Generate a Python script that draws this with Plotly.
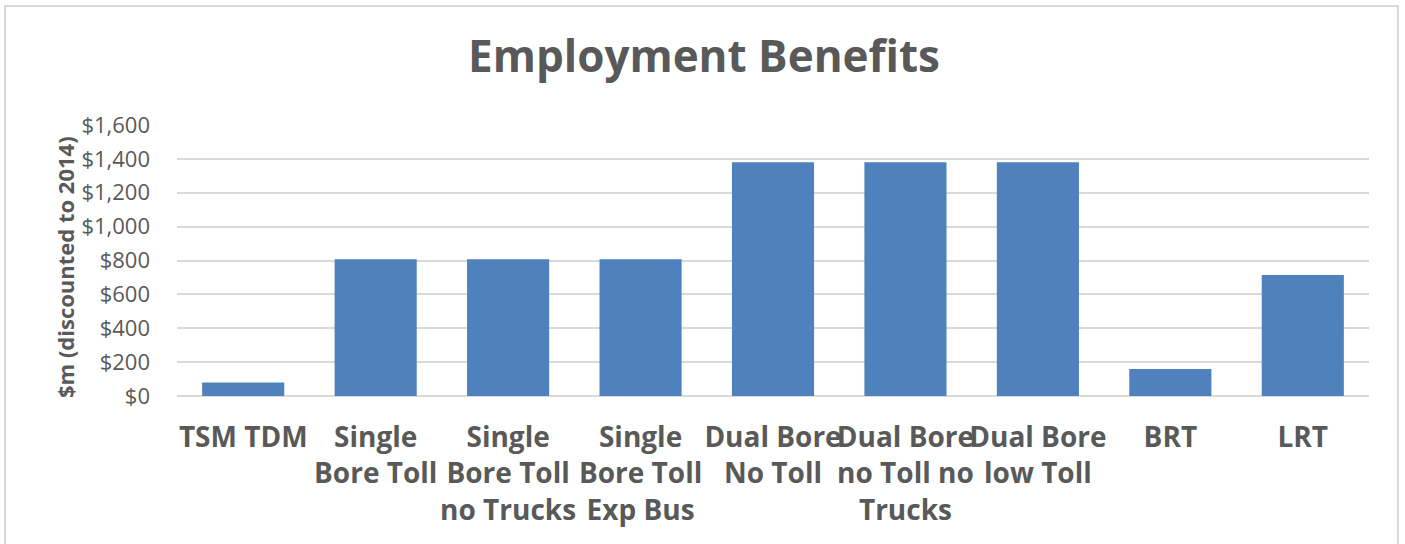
import plotly.graph_objects as go

# Employment benefits by scenario, $m discounted to 2014
categories = ["TSM TDM", "Single Bore Toll", "Single Bore Toll no Trucks",
              "Single Bore Toll Exp Bus", "Dual Bore No Toll",
              "Dual Bore no Toll no Trucks", "Dual Bore low Toll", "BRT", "LRT"]
benefits = [80, 808, 808, 808, 1380, 1380, 1380, 160, 715]
tick_labels = ["TSM TDM", "Single<br>Bore Toll", "Single<br>Bore Toll<br>no Trucks",
               "Single<br>Bore Toll<br>Exp Bus", "Dual Bore<br>No Toll",
               "Dual Bore<br>no Toll no<br>Trucks", "Dual Bore<br>low Toll", "BRT", "LRT"]
y_ticks = [0, 200, 400, 600, 800, 1000, 1200, 1400, 1600]
y_tick_labels = ["$0", "$200", "$400", "$600", "$800", "$1,000", "$1,200", "$1,400", "$1,600"]

W, H = 1405, 544
L, R, T, B = 177, 36, 125, 148
pw, ph = W - L - R, H - T - B

FONT = "Open Sans"
GREY = "#595959"

fig = go.Figure(go.Bar(
    x=categories, y=benefits,
    marker=dict(color="#4F81BD", line=dict(width=0)),
    width=0.62,
))

fig.update_layout(
    width=W, height=H,
    margin=dict(l=L, r=R, t=T, b=B, autoexpand=False),
    paper_bgcolor="white", plot_bgcolor="white",
    showlegend=False,
    title=dict(text="<b>Employment Benefits</b>", x=704 / W, xanchor="center",
               y=1 - 57 / H, yanchor="middle",
               font=dict(family=FONT, size=44, color=GREY)),
    xaxis=dict(tickmode="array", tickvals=categories,
               ticktext=[f"<b>{t}</b>" for t in tick_labels],
               tickfont=dict(family=FONT, size=28, color=GREY),
               tickangle=0, automargin=False,
               showline=False, showgrid=False, ticks="",
               ticklabelstandoff=22),
    yaxis=dict(range=[0, 1600], tickmode="array", tickvals=y_ticks, ticktext=y_tick_labels,
               tickfont=dict(family=FONT, size=22, color=GREY),
               automargin=False,
               showgrid=True, gridcolor="#D9D9D9", gridwidth=2,
               zeroline=True, zerolinecolor="#D9D9D9", zerolinewidth=2,
               showline=False, ticks="", ticklabelstandoff=26),
    annotations=[dict(text="<b>$m (discounted to 2014)</b>", textangle=-90,
                      xref="paper", yref="paper",
                      x=(65 - L) / pw, y=(H - B - 267) / ph,
                      xanchor="center", yanchor="middle", showarrow=False,
                      font=dict(family=FONT, size=22, color=GREY))],
    shapes=[dict(type="rect", xref="paper", yref="paper",
                 x0=(5 - L) / pw, x1=(1398 - L) / pw,
                 y0=(H - B - 560) / ph, y1=(H - B - 6) / ph,
                 line=dict(color="#D9D9D9", width=2), fillcolor="rgba(0,0,0,0)",
                 layer="below")],
)

fig.write_html("out.html")
